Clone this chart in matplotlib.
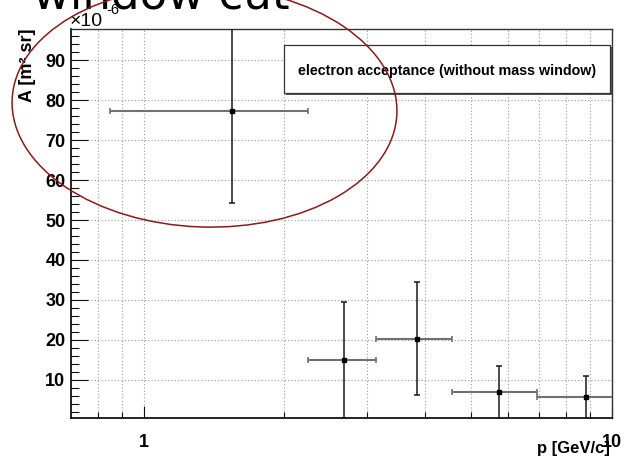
import matplotlib
matplotlib.use("Agg")
import matplotlib.pyplot as plt
from matplotlib.patches import Ellipse, Rectangle
from matplotlib.ticker import FixedLocator, FixedFormatter, NullFormatter

# Momentum bins (GeV/c): centre and half-width
p_center = [1.545, 2.685, 3.845, 5.75, 8.83]
p_halfwidth = [0.695, 0.445, 0.715, 1.19, 1.89]
# Acceptance in units of 1e-6 m^2 sr, with its uncertainty
acceptance = [77.3, 15.0, 20.3, 6.9, 5.7]
acceptance_err = [23.0, 14.5, 14.1, 6.6, 5.4]

x_major = [1, 10]
x_major_labels = ["1", "10"]
x_minor = [0.8, 0.9, 2, 3, 4, 5, 6, 7, 8, 9]
y_major = [10, 20, 30, 40, 50, 60, 70, 80, 90]
y_major_labels = [str(v) for v in y_major]
y_minor = [v for v in range(2, 98, 2) if v % 10]

legend_text = "electron acceptance (without mass window)"
title_text = "window cut"

plt.rcParams["font.family"] = ["Liberation Sans", "DejaVu Sans"]
plt.rcParams["font.weight"] = "bold"

W, H = 625, 462
fig = plt.figure(figsize=(W / 100, H / 100), dpi=100)
fig.patch.set_facecolor("white")

ax = fig.add_axes([71 / W, 1 - 418.3 / H, (611.7 - 71) / W, (418.3 - 29.3) / H])
ax.set_xscale("log")
ax.set_xlim(0.7, 10)
ax.set_ylim(0.4, 97.7)

# horizontal (bin width) bars, vertical (error) bars, then the points
ax.errorbar(p_center, acceptance, xerr=p_halfwidth, fmt="none",
            ecolor="#707070", elinewidth=1.5, capsize=2.2, capthick=1.2, zorder=3)
ax.errorbar(p_center, acceptance, yerr=acceptance_err, fmt="none",
            ecolor="#1a1a1a", elinewidth=1.1, capsize=2.5, capthick=1.1, zorder=4)
ax.plot(p_center, acceptance, "s", ms=2.6, color="black", zorder=5)

# axes ticks
ax.xaxis.set_major_locator(FixedLocator(x_major))
ax.xaxis.set_major_formatter(FixedFormatter(x_major_labels))
ax.xaxis.set_minor_locator(FixedLocator(x_minor))
ax.xaxis.set_minor_formatter(NullFormatter())
ax.yaxis.set_major_locator(FixedLocator(y_major))
ax.yaxis.set_major_formatter(FixedFormatter(y_major_labels))
ax.yaxis.set_minor_locator(FixedLocator(y_minor))

ax.tick_params(axis="both", which="both", direction="in", top=False, right=False,
               color="#111111", width=0.8)
ax.tick_params(axis="y", which="major", length=12, labelsize=13, pad=4)
ax.tick_params(axis="y", which="minor", length=6)
ax.tick_params(axis="x", which="major", length=8.6, labelsize=13, pad=11)
ax.tick_params(axis="x", which="minor", length=4.3)

grid_style = dict(color="#9a9a9a", linestyle=(0, (1, 2)), linewidth=0.8)
ax.grid(axis="y", which="major", **grid_style)
ax.grid(axis="x", which="both", **grid_style)
ax.set_axisbelow(True)

for side in ("left", "bottom"):
    ax.spines[side].set_linewidth(1.2)
    ax.spines[side].set_color("black")
for side in ("top", "right"):
    ax.spines[side].set_linewidth(1.0)
    ax.spines[side].set_color("#333333")

# axis titles and exponent
fig.text(28 / W, 1 - 28 / H, "A [m\u00b2 sr]", rotation=90, ha="center", va="top",
         fontsize=13, fontweight="bold")
fig.text(610 / W, 1 - 441 / H, "p [GeV/c]", ha="right", va="top",
         fontsize=12, fontweight="bold")
fig.text(70 / W, 1 - 25.5 / H, "\u00d710", fontsize=14, fontweight="normal", va="baseline")
fig.text(106 / W, 1 - 13.5 / H, "-6", fontsize=10.5, fontweight="normal", va="baseline")

# legend box with shadow
lx0, lx1, ly0, ly1 = 283.5, 610, 45, 92.7
fig.add_artist(Rectangle(((lx0 + 2) / W, 1 - (ly1 + 2) / H), (lx1 - lx0) / W, (ly1 - ly0) / H,
                         transform=fig.transFigure, facecolor="#555555", edgecolor="none",
                         zorder=6))
fig.add_artist(Rectangle((lx0 / W, 1 - ly1 / H), (lx1 - lx0) / W, (ly1 - ly0) / H,
                         transform=fig.transFigure, facecolor="white", edgecolor="#333333",
                         linewidth=0.9, zorder=7))
fig.text((lx0 + lx1) / 2 / W, 1 - 70.5 / H, legend_text, ha="center", va="center",
         fontsize=10.3, fontweight="bold", zorder=8)

# title, partly above the canvas
fig.text(33 / W, 1 - 8.5 / H, title_text, fontsize=32.5, fontweight="normal",
         family="DejaVu Sans", ha="left", va="baseline", zorder=9)

# red ring drawn over the upper-left region
fig.add_artist(Ellipse((2.045, 3.553), 3.85, 2.406, angle=-2,
                       transform=fig.dpi_scale_trans, fill=False,
                       edgecolor="#8b1a1a", linewidth=1.1, zorder=10))

fig.savefig("out.png", dpi=100)
